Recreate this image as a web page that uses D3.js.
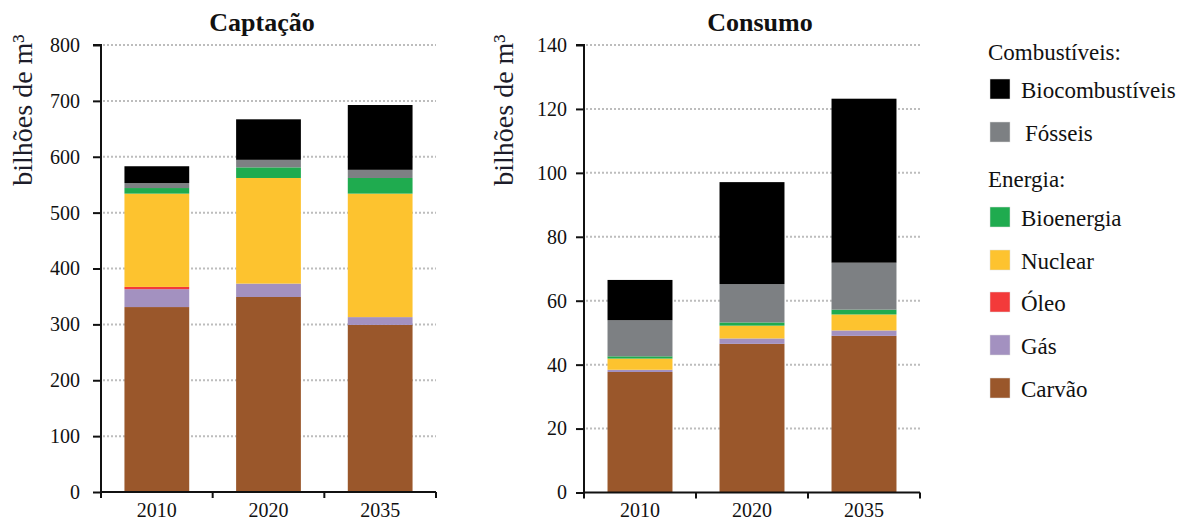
<!DOCTYPE html>
<html><head><meta charset="utf-8">
<script src="https://cdn.jsdelivr.net/npm/d3@7/dist/d3.min.js"></script>
</head>
<body style="margin:0;background:#fff"><svg id="chart" width="1181" height="522"></svg>
<script>
// ---- data ----
const years = ["2010", "2020", "2035"];
const seriesNames = ["Carvão", "Gás", "Óleo", "Nuclear", "Bioenergia", "Fósseis", "Biocombustíveis"];
const seriesColors = ["#9a572b", "#a391c0", "#f33a3a", "#fdc32f", "#1fab4f", "#7d8083", "#000000"];

// Captação (billion m3)
const capCarvao = [331, 349, 299];
const capGas = [32, 24, 14];
const capOleo = [4, 0, 0];
const capNuclear = [167, 189, 221];
const capBioenergia = [10, 19, 28];
const capFosseis = [9, 13.5, 14.6];
const capBiocomb = [30, 72.5, 116];

// Consumo (billion m3)
const conCarvao = [37.7, 46.5, 49.0];
const conGas = [0.7, 1.7, 1.7];
const conOleo = [0, 0, 0];
const conNuclear = [3.5, 4.0, 5.0];
const conBioenergia = [0.7, 1.0, 1.5];
const conFosseis = [11.3, 12.0, 14.7];
const conBiocomb = [12.6, 31.9, 51.3];

const capTicks = [0, 100, 200, 300, 400, 500, 600, 700, 800];
const conTicks = [0, 20, 40, 60, 80, 100, 120, 140];

const legendGroups = [
  {title: "Combustíveis:", items: ["Biocombustíveis", "Fósseis"]},
  {title: "Energia:", items: ["Bioenergia", "Nuclear", "Óleo", "Gás", "Carvão"]}
];

const FONT = "'Liberation Serif'";

function toRows(arrs) {
  return years.map((y, i) => {
    const r = {year: y};
    seriesNames.forEach((s, k) => r[s] = arrs[k][i]);
    return r;
  });
}
const capRows = toRows([capCarvao, capGas, capOleo, capNuclear, capBioenergia, capFosseis, capBiocomb]);
const conRows = toRows([conCarvao, conGas, conOleo, conNuclear, conBioenergia, conFosseis, conBiocomb]);

const svg = d3.select("#chart");
const color = d3.scaleOrdinal().domain(seriesNames).range(seriesColors);

function drawPanel(opts) {
  const {rows, ticks, max, x0, x1, y0, y1, title, titleX, labelX, pad} = opts;
  const g = svg.append("g");
  const x = d3.scaleBand().domain(years).range([x0, x1]).paddingInner(0.42).paddingOuter(0.21);
  const y = d3.scaleLinear().domain([0, max]).range([y0, y1]);

  // gridlines
  g.selectAll("line.grid").data(ticks.filter(t => t > 0)).join("line")
    .attr("x1", x0 + 2).attr("x2", x1)
    .attr("y1", d => y(d)).attr("y2", d => y(d))
    .attr("stroke", "#bdbdbd").attr("stroke-width", 2).attr("stroke-dasharray", "2,2");

  // bars
  const stacked = d3.stack().keys(seriesNames)(rows);
  g.selectAll("g.layer").data(stacked).join("g")
    .attr("fill", d => color(d.key))
    .selectAll("rect").data(d => d.filter(p => p[1] - p[0] > 0)).join("rect")
    .attr("x", d => x(d.data.year))
    .attr("width", x.bandwidth())
    .attr("y", d => y(d[1]))
    .attr("height", d => y(d[0]) - y(d[1]));

  // y axis
  const yAxis = d3.axisLeft(y).tickValues(ticks).tickSize(8).tickPadding(pad).tickFormat(d3.format("d"));
  const ya = g.append("g").attr("transform", `translate(${x0},0)`).call(yAxis);
  ya.select(".domain").attr("stroke", "#111").attr("stroke-width", 2).attr("d", `M-8,${y1}H0V${y0}`);
  ya.selectAll(".tick line").attr("stroke", "#111").attr("stroke-width", 2);
  ya.selectAll(".tick text").attr("font-size", 20).attr("fill", "#111")
    .style("font-family", FONT);

  // x axis with ticks at band edges
  const xa = g.append("g");
  xa.append("line").attr("x1", x0).attr("x2", x1).attr("y1", y0).attr("y2", y0)
    .attr("stroke", "#111").attr("stroke-width", 2);
  const edges = years.map(yv => x(yv) - (x.step() - x.bandwidth()) / 2).concat([x1]);
  xa.selectAll("line.xt").data(edges).join("line")
    .attr("x1", d => d).attr("x2", d => d).attr("y1", y0).attr("y2", y0 + 6)
    .attr("stroke", "#111").attr("stroke-width", 2);
  xa.selectAll("text").data(years).join("text")
    .attr("x", d => x(d) + x.bandwidth() / 2).attr("y", 517)
    .attr("text-anchor", "middle").attr("font-size", 20).attr("fill", "#111")
    .style("font-family", FONT).text(d => d);

  // title
  g.append("text").attr("x", titleX).attr("y", 31).attr("text-anchor", "middle")
    .attr("font-size", 26).attr("font-weight", "bold").attr("fill", "#111")
    .style("font-family", FONT).text(title);

  // y label
  g.append("text").attr("transform", `translate(${labelX},110) rotate(-90)`)
    .attr("text-anchor", "middle").attr("font-size", 28).attr("fill", "#1c1c2a")
    .style("font-family", FONT).text("bilhões de m³");
}

drawPanel({rows: capRows, ticks: capTicks, max: 800, x0: 101, x1: 436, y0: 492, y1: 45,
  title: "Captação", titleX: 262, labelX: 32, pad: 13});
drawPanel({rows: conRows, ticks: conTicks, max: 140, x0: 584, x1: 920, y0: 492.5, y1: 45,
  title: "Consumo", titleX: 760, labelX: 513, pad: 9});

// legend
const lg = svg.append("g");
const groupTitleY = [60, 187];
const itemTops = [[79, 122], [207, 250, 292, 335, 378]];
legendGroups.forEach((grp, gi) => {
  lg.append("text").attr("x", 988).attr("y", groupTitleY[gi]).attr("font-size", 23)
    .attr("fill", "#111").style("font-family", FONT).text(grp.title);
  grp.items.forEach((name, ii) => {
    const top = itemTops[gi][ii];
    lg.append("rect").attr("x", 990).attr("y", top).attr("width", 20).attr("height", 20)
      .attr("fill", color(name)).attr("stroke", "#ddd").attr("stroke-width", 0.5);
    lg.append("text").attr("x", name === "Fósseis" ? 1025 : 1021).attr("y", top + 19)
      .attr("font-size", 23).attr("fill", "#111").style("font-family", FONT).text(name);
  });
});
</script></body></html>
